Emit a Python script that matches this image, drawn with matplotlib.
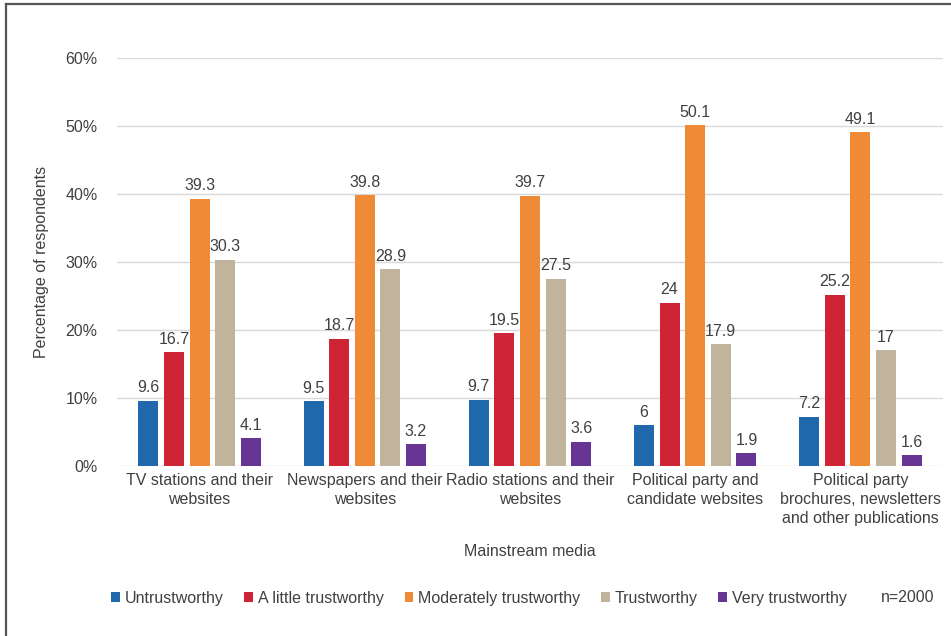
import matplotlib.pyplot as plt
import numpy as np
from matplotlib.lines import Line2D
from matplotlib.patches import Patch

plt.rcParams['font.family'] = ['Liberation Sans', 'DejaVu Sans']

categories = ['TV stations and their\nwebsites',
              'Newspapers and their\nwebsites',
              'Radio stations and their\nwebsites',
              'Political party and\ncandidate websites',
              'Political party\nbrochures, newsletters\nand other publications']
series = ['Untrustworthy', 'A little trustworthy', 'Moderately trustworthy',
          'Trustworthy', 'Very trustworthy']
untrustworthy = [9.6, 9.5, 9.7, 6, 7.2]
little = [16.7, 18.7, 19.5, 24, 25.2]
moderately = [39.3, 39.8, 39.7, 50.1, 49.1]
trustworthy = [30.3, 28.9, 27.5, 17.9, 17]
very = [4.1, 3.2, 3.6, 1.9, 1.6]
values = [untrustworthy, little, moderately, trustworthy, very]
colors = ['#1f68ab', '#cf2436', '#ef8a36', '#c0b49c', '#673593']
yticks = [0, 10, 20, 30, 40, 50, 60]

fig = plt.figure(figsize=(9.51, 6.36), dpi=100)
ax = fig.add_axes([117 / 951, 1 - 466 / 636, 826 / 951, 408 / 636])

x = np.arange(len(categories))
pitch = 0.155
width = 0.122
for i, (vals, col) in enumerate(zip(values, colors)):
    pos = x + (i - 2) * pitch
    ax.bar(pos, vals, width, color=col, zorder=3)
    for px, v in zip(pos, vals):
        ax.annotate(f'{v:g}', (px, v), textcoords='offset points', xytext=(0, 4),
                    ha='center', va='bottom', fontsize=11.5, color='#404040')

ax.set_xlim(-0.5, len(categories) - 0.5)
ax.set_ylim(0, 60)
ax.set_yticks(yticks)
ax.set_yticklabels([f'{t}%' for t in yticks])
ax.set_xticks(x)
ax.set_xticklabels(categories, linespacing=1.35)
ax.tick_params(axis='both', length=0, labelsize=11.5, labelcolor='#404040')
ax.tick_params(axis='y', pad=14)
ax.tick_params(axis='x', pad=5)
ax.grid(axis='y', color='#d9d9d9', linewidth=1, zorder=0)
for s in ax.spines.values():
    s.set_visible(False)

ax.set_ylabel('Percentage of respondents', fontsize=11.5, color='#404040', labelpad=12)
fig.text(530 / 951, 1 - 551 / 636, 'Mainstream media', ha='center', va='center',
         fontsize=11.5, color='#404040')

handles = [Patch(facecolor=c, edgecolor='none') for c in colors]
handles.append(Line2D([], [], linestyle='none'))
labels = series + ['n=2000']
fig.legend(handles, labels, loc='center', bbox_to_anchor=(523 / 951, 1 - 598 / 636),
           ncol=6, frameon=False, fontsize=11.5, handlelength=0.55, handleheight=0.55,
           handletextpad=0.3, columnspacing=1.3, labelcolor='#404040')

# frame lines on the left and top edges
fig.add_artist(Line2D([6 / 951, 6 / 951], [0, 1 - 4 / 636], color='#555555', linewidth=1.6,
                      transform=fig.transFigure))
fig.add_artist(Line2D([6 / 951, 1], [1 - 4 / 636, 1 - 4 / 636], color='#555555', linewidth=1.6,
                      transform=fig.transFigure))

fig.savefig('out.png', dpi=100)
